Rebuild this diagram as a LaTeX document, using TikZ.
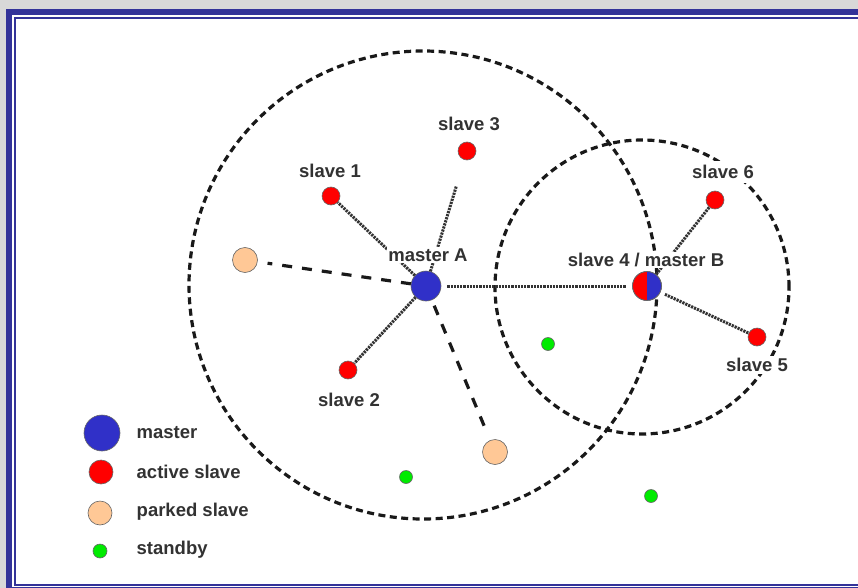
\documentclass[tikz,border=0pt]{standalone}
\usepackage{fontspec}
\setmainfont{Liberation Sans}
\definecolor{bggray}{RGB}{216,216,216}
\definecolor{frameblue}{RGB}{51,51,153}
\definecolor{mblue}{RGB}{48,48,200}
\definecolor{ared}{RGB}{255,0,0}
\definecolor{peach}{RGB}{255,200,150}
\definecolor{sgreen}{RGB}{0,235,0}
\definecolor{txtgray}{RGB}{50,50,50}
\newcommand{\labelfont}{\fontsize{18.5}{20}\selectfont\bfseries}
\begin{document}
\begin{tikzpicture}[x=1pt,y=-1pt,
  lbl/.style={font=\labelfont, text=txtgray, fill=white, inner sep=2.5pt},
  dev/.style={circle, draw=black!60, line width=0.6pt, inner sep=0pt},
  masterdev/.style={dev, fill=mblue, minimum size=30pt},
  activedev/.style={dev, fill=ared, minimum size=18pt},
  parkeddev/.style={dev, fill=peach, minimum size=25pt},
  standbydev/.style={dev, fill=sgreen, minimum size=13pt},
  link/.style={line width=3pt, dash pattern=on 2.2pt off 1pt, black!80},
  parklink/.style={line width=3.2pt, dash pattern=on 10pt off 10pt, black!90},
  rangecircle/.style={line width=3.2pt, dash pattern=on 7pt off 4.5pt, black!90}
]
\useasboundingbox (0,0) rectangle (858,588);
\clip (0,0) rectangle (858,588);

% page background and double frame
\fill[bggray] (0,0) rectangle (858,588);
\fill[frameblue] (6,9) rectangle (880,600);
\fill[white] (12,15) rectangle (876,587);
\draw[frameblue, line width=2pt] (15,18) rectangle (870,585);

% piconet ranges
\coordinate (rA) at (423,285);
\coordinate (rB) at (642,287);
\draw[rangecircle] (rA) circle[radius=234pt];
\draw[rangecircle] (rB) circle[radius=147pt];

% devices
\node[masterdev] (mA) at (426,286) {};
\node[masterdev, minimum size=29pt,
  path picture={\fill[ared] (path picture bounding box.south west) rectangle (path picture bounding box.north);}]
  (s4) at (647,286) {};
\node[activedev] (s1) at (331,196) {};
\node[activedev] (s2) at (348,370) {};
\node[activedev] (s3) at (467,151) {};
\node[activedev] (s5) at (757,337) {};
\node[activedev] (s6) at (715,200) {};
\node[parkeddev] (p1) at (245,260) {};
\node[parkeddev] (p2) at (495,452) {};
\node[standbydev] (sb1) at (548,344) {};
\node[standbydev] (sb2) at (406,477) {};
\node[standbydev] (sb3) at (651,496) {};
% redraw the split node outline on top
\draw[black!60, line width=0.6pt] (s4) circle[radius=14.5pt];

% active links
\draw[link] (mA) -- (s1);
\draw[link, shorten >=27pt] (mA) -- (s3);
\draw[link] (mA) -- (s2);
\draw[link, shorten <=6pt, shorten >=6pt] (mA) -- (s4);
\draw[link] (s4) -- (s6);
\draw[link, shorten <=5pt] (s4) -- (s5);
% parked links
\draw[parklink, shorten >=10pt] (mA) -- (p1);
\draw[parklink, shorten <=6pt, shorten >=15pt] (mA) -- (p2);

% device labels
\node[lbl] (l3) at (469,124) {slave 3};
\node[lbl] (l1) at (330,171) {slave 1};
\node[lbl, inner sep=1.5pt] (lA) at (428,255) {master A};
\node[lbl, inner sep=1.5pt] (lB) at (646,260) {slave 4 / master B};
\node[lbl, inner sep=4pt] (l6) at (723,172) {slave 6};
\node[lbl] (l5) at (757,365) {slave 5};
\node[lbl] (l2) at (349,400) {slave 2};

% legend
\node[masterdev, minimum size=36pt] (km) at (102,433) {};
\node[activedev, minimum size=24pt] (ka) at (101,472) {};
\node[parkeddev, minimum size=24pt] (kp) at (100,513) {};
\node[standbydev, minimum size=14pt] (ks) at (100,551) {};
\node[lbl, anchor=west, inner sep=1.5pt] (tm) at (135,433) {master};
\node[lbl, anchor=west, inner sep=1.5pt] (ta) at (135,472) {active slave};
\node[lbl, anchor=west, inner sep=1.5pt] (tp) at (135,512) {parked slave};
\node[lbl, anchor=west, inner sep=1.5pt] (ts) at (135,550) {standby};
\end{tikzpicture}
\end{document}
